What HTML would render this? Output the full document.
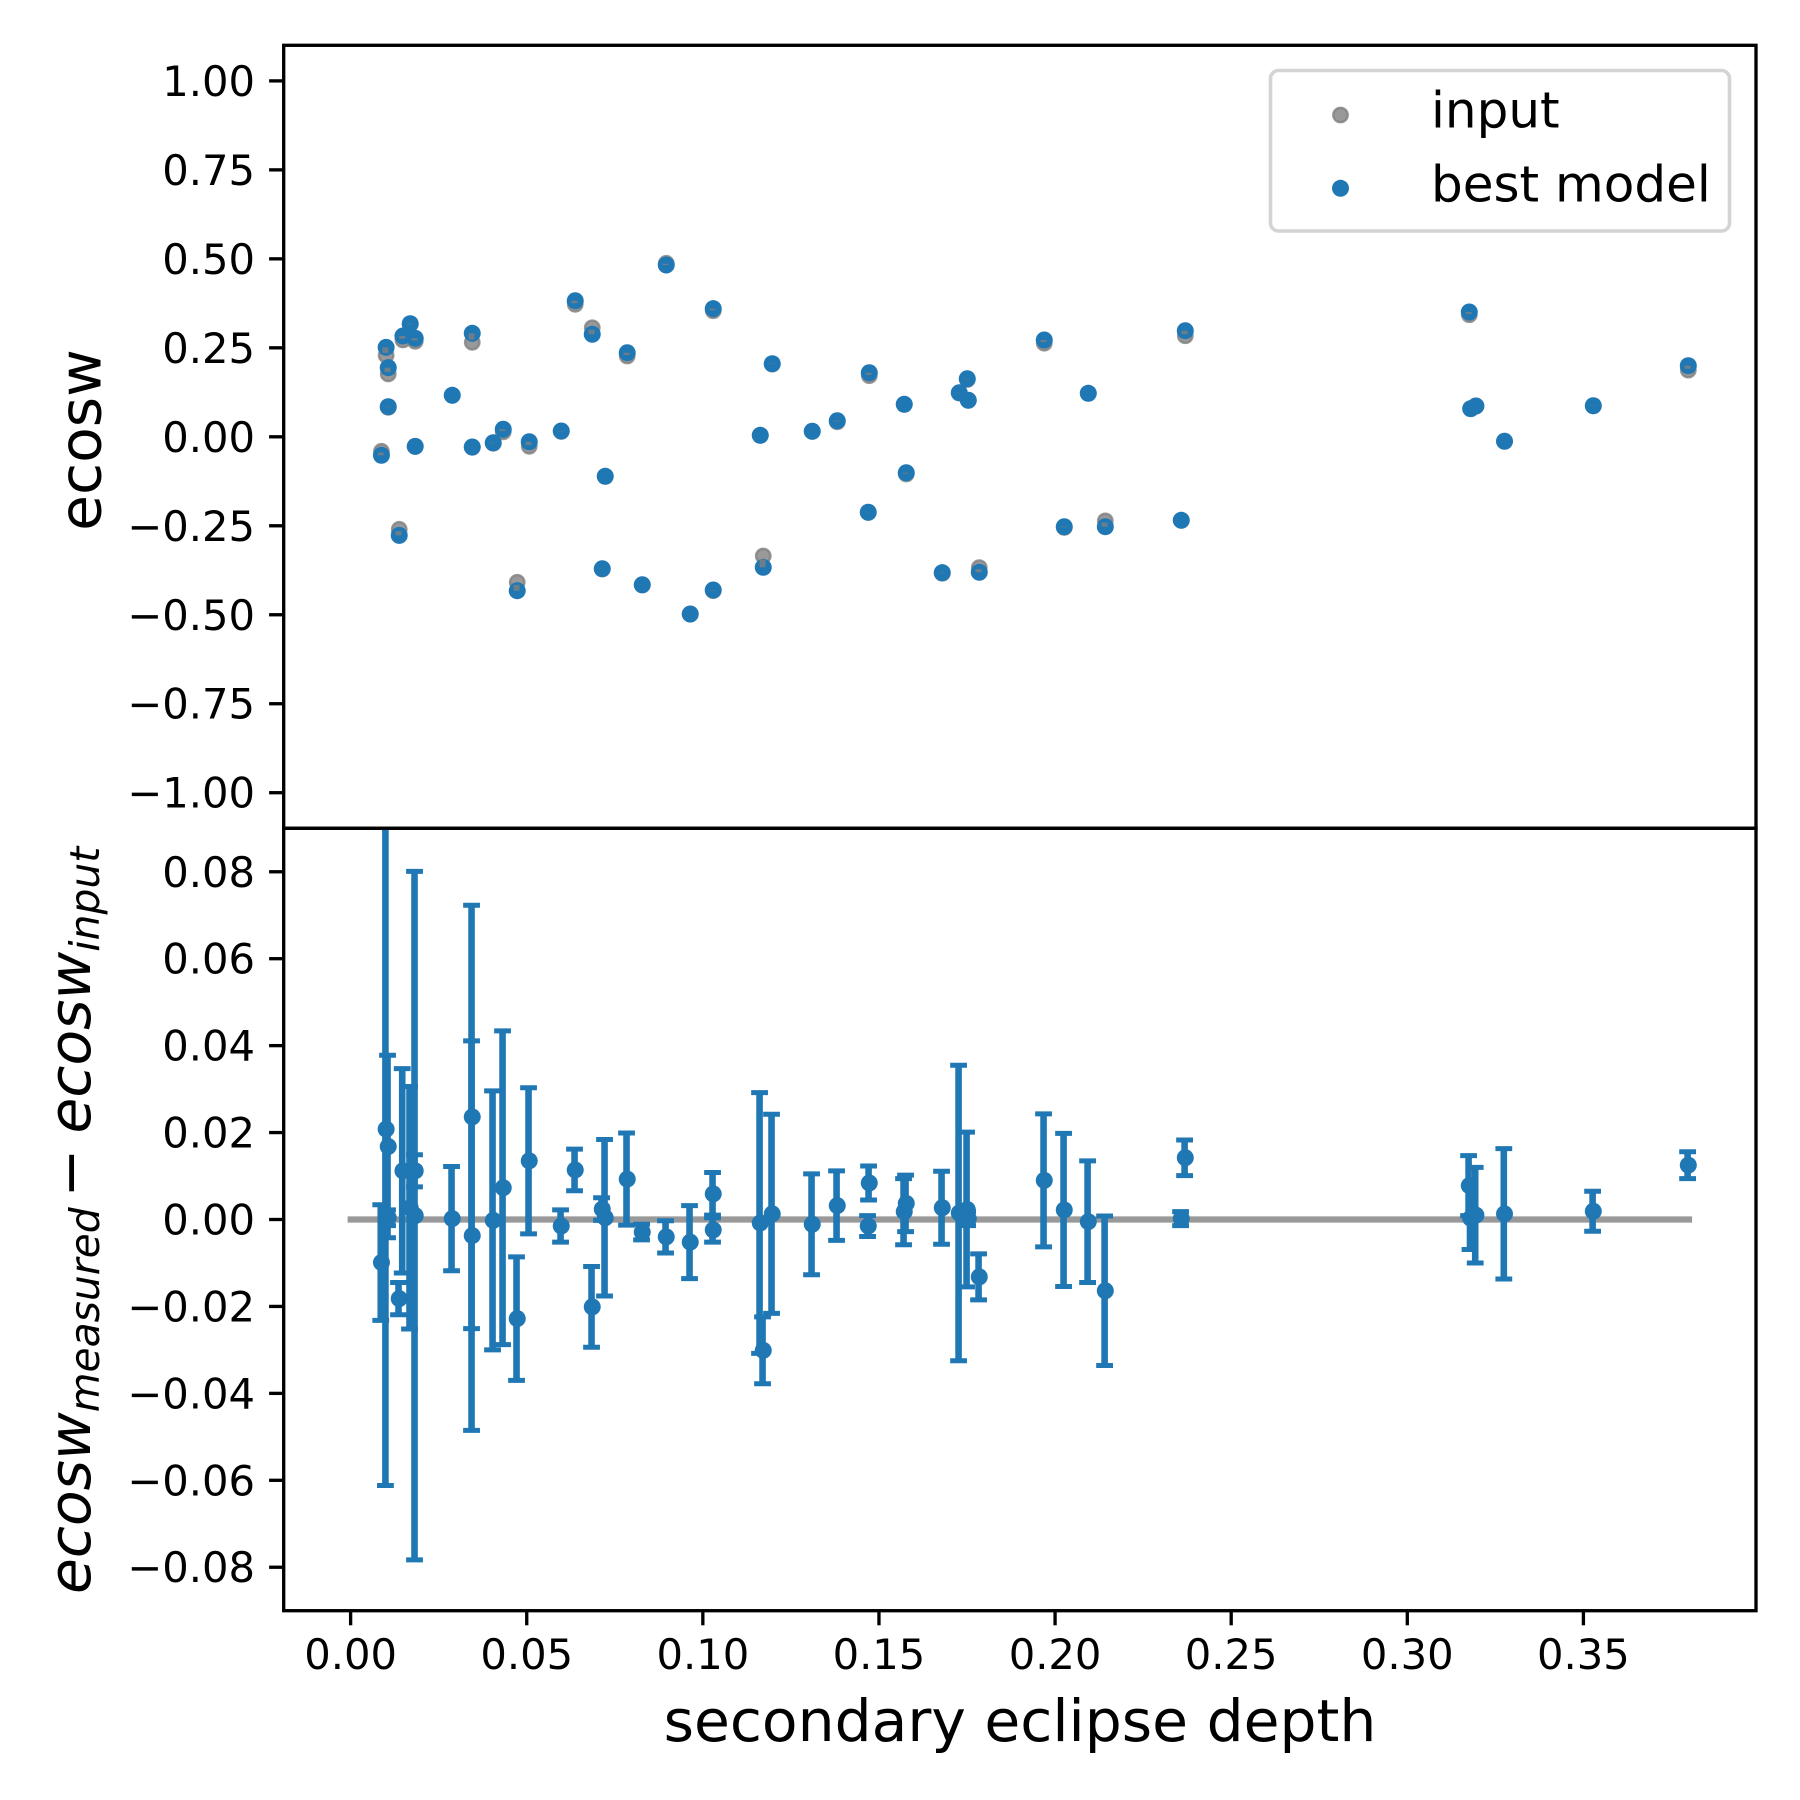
<!DOCTYPE html>
<html lang="en">
<head>
<meta charset="utf-8">
<title>ecosw vs secondary eclipse depth</title>
<style>
html,body{margin:0;padding:0;background:#fff;}
svg{display:block;}
text{font-family:"DejaVu Sans","Liberation Sans",sans-serif;fill:#000;}
</style>
</head>
<body>
<svg id="chart" xmlns="http://www.w3.org/2000/svg" width="1800" height="1800" viewBox="0 0 1800 1800">
  <defs>
    <clipPath id="clip-top"><rect x="283.5" y="45.3" width="1472.5" height="783"/></clipPath>
    <clipPath id="clip-bottom"><rect x="283.5" y="828.3" width="1472.5" height="782.4"/></clipPath>
  </defs>
  <rect x="0" y="0" width="1800" height="1800" fill="#ffffff"/>
  <g id="top-marks" clip-path="url(#clip-top)"></g>
  <g id="bottom-marks" clip-path="url(#clip-bottom)"></g>
  <g id="axes-layer"></g>

  <text transform="translate(100.5,440) rotate(-90)" text-anchor="middle" font-size="58.33">ecosw</text>
  <text transform="translate(90,1594) rotate(-90)" font-size="58.33"><tspan font-style="italic">ecosw</tspan><tspan font-style="italic" font-size="40.83" dy="9">measured</tspan><tspan dy="-9" dx="10">−</tspan><tspan font-style="italic" dx="15">ecosw</tspan><tspan font-style="italic" font-size="40.83" dy="9">input</tspan></text>
  <text x="1020" y="1741" text-anchor="middle" font-size="58.33">secondary eclipse depth</text>

  <g>
    <rect x="1270.5" y="70.5" width="459" height="160.5" rx="8" ry="8" fill="#ffffff" fill-opacity="0.8" stroke="#d4d4d4" stroke-width="3.6"/>
    <g>
      <circle cx="1340.5" cy="115" r="7.2" fill="#808080" fill-opacity="0.8" stroke="#808080" stroke-opacity="0.8" stroke-width="2.4"/>
      <text x="1431" y="127.7" font-size="50">input</text>
    </g>
    <g>
      <circle cx="1340.5" cy="188.3" r="8.5" fill="#1f77b4"/>
      <text x="1431" y="201.7" font-size="50">best model</text>
    </g>
  </g>
</svg>
<script>
// ---- chart data ----
const depth = [0.00875,0.01008,0.01068,0.01068,0.0138,0.01485,0.01692,0.01834,0.01834,0.02885,0.03453,0.03453,0.04049,0.04333,0.0473,0.05071,0.0598,0.06377,0.0686,0.07229,0.07144,0.07853,0.0828,0.08961,0.09642,0.10295,0.10295,0.1163,0.11715,0.1197,0.13106,0.13816,0.14696,0.14725,0.15718,0.15775,0.16797,0.1728,0.17507,0.17536,0.17848,0.19693,0.20261,0.20943,0.21426,0.23583,0.23697,0.3176,0.318,0.31948,0.3276,0.35281,0.37978];
const bestEcosw = [-0.052,0.2514,0.1942,0.0846,-0.2769,0.2832,0.3178,0.2767,-0.0268,0.1166,0.2908,-0.0287,-0.0166,0.0211,-0.4324,-0.0138,0.0163,0.3824,0.288,-0.111,-0.3706,0.2363,-0.4156,0.4827,-0.4979,0.36,-0.4305,0.0042,-0.3667,0.2054,0.0155,0.0452,-0.2121,0.1801,0.0913,-0.1009,-0.3818,0.1239,0.1632,0.1026,-0.3807,0.272,-0.2526,0.1222,-0.2526,-0.2346,0.2981,0.3507,0.079,0.0865,-0.0126,0.0874,0.1998];
const inputEcosw = [-0.0408,0.2289,0.1765,0.0828,-0.26,0.272,0.316,0.2683,-0.0268,0.1166,0.2655,-0.0295,-0.0183,0.0138,-0.4088,-0.0267,0.015,0.3723,0.3065,-0.111,-0.3715,0.227,-0.4164,0.4875,-0.4985,0.3541,-0.4324,0.0042,-0.3349,0.2041,0.015,0.042,-0.2125,0.1717,0.0913,-0.1046,-0.3835,0.123,0.1609,0.1026,-0.3675,0.263,-0.2548,0.1222,-0.2362,-0.2346,0.2839,0.3429,0.079,0.0865,-0.0126,0.0868,0.1873];
const residual = [-0.0099,0.0208,0.0168,0.0004,-0.0182,0.0112,0.0027,0.0112,0.0009,0.0002,0.0236,-0.0037,-0.0002,0.0073,-0.0228,0.0135,-0.0015,0.0114,-0.0201,0.0004,0.0024,0.0093,-0.0029,-0.004,-0.0052,0.0059,-0.0024,-0.0008,-0.0301,0.0013,-0.0011,0.0032,-0.0015,0.0084,0.0018,0.0037,0.0027,0.0015,0.0023,0.0002,-0.0132,0.009,0.0022,-0.0005,-0.0164,0.0002,0.0142,0.0078,0.0003,0.001,0.0013,0.0019,0.0125];
const errorSize = [0.0133,0.082,0.021,0.0018,0.0037,0.0235,0.0279,0.0037,0.0792,0.012,0.0487,0.0448,0.0298,0.0361,0.0142,0.0168,0.0037,0.0048,0.0093,0.018,0.0026,0.0106,0.0018,0.0037,0.0084,0.0049,0.0028,0.03,0.0077,0.0229,0.0116,0.008,0.0024,0.0039,0.0076,0.0065,0.0084,0.034,0.0178,0.0016,0.0053,0.0153,0.0176,0.014,0.0172,0.0016,0.0041,0.0069,0.0072,0.011,0.015,0.0046,0.0031];
const xTickValues = [0,0.05,0.1,0.15,0.2,0.25,0.3,0.35];
const xTickLabels = ["0.00","0.05","0.10","0.15","0.20","0.25","0.30","0.35"];
const topTickValues = [1,0.75,0.5,0.25,0,-0.25,-0.5,-0.75,-1];
const topTickLabels = ["1.00","0.75","0.50","0.25","0.00","−0.25","−0.50","−0.75","−1.00"];
const bottomTickValues = [0.08,0.06,0.04,0.02,0,-0.02,-0.04,-0.06,-0.08];
const bottomTickLabels = ["0.08","0.06","0.04","0.02","0.00","−0.02","−0.04","−0.06","−0.08"];
const referenceLineRange = [0,0.38];

// ---- axis functions ----
const LEFT = 283.7, RIGHT = 1756, TOP = 45.3, MID = 828.3, BOTTOM = 1610.7;
const X_MIN = -0.019, X_MAX = 0.399;
function xScale(v){ return LEFT + (v - X_MIN) / (X_MAX - X_MIN) * (RIGHT - LEFT); }
function yTop(v){ return TOP + (1.1 - v) / 2.2 * (MID - TOP); }
function yBottom(v){ return MID + (0.09 - v) / 0.18 * (BOTTOM - MID); }

const NS = 'http://www.w3.org/2000/svg';
function make(tag, attrs, parent){
  const el = document.createElementNS(NS, tag);
  for (const k in attrs) el.setAttribute(k, attrs[k]);
  parent.appendChild(el);
  return el;
}
const BLUE = '#1f77b4', GRAY = '#808080';
const topG = document.getElementById('top-marks');
const botG = document.getElementById('bottom-marks');
const axG = document.getElementById('axes-layer');

// ---- top panel ----
inputEcosw.forEach(function(v, i){
  const c = make('circle', {cx:xScale(depth[i]), cy:yTop(v), r:7.2, fill:GRAY, 'fill-opacity':0.8, stroke:GRAY, 'stroke-opacity':0.8, 'stroke-width':2.4}, topG);
  
  
});
bestEcosw.forEach(function(v, i){
  const c = make('circle', {cx:xScale(depth[i]), cy:yTop(v), r:8.5, fill:BLUE}, topG);
  
  
});
bestEcosw.forEach(function(v, i){
  const y1 = yTop(v);
  const y2 = yTop(v + (inputEcosw[i] - v) * 0.7);
  const l = make('line', {x1:xScale(depth[i]) - 0.7, x2:xScale(depth[i]) - 0.7, y1:y1, y2:y2, stroke:GRAY, 'stroke-opacity':0.8, 'stroke-width':6}, topG);
  
  
});

// ---- bottom panel ----
const zero = make('line', {x1:xScale(referenceLineRange[0]) - 3, x2:xScale(referenceLineRange[1]) + 3, y1:yBottom(0), y2:yBottom(0), stroke:GRAY, 'stroke-opacity':0.8, 'stroke-width':6.25}, botG);



residual.forEach(function(v, i){
  const x = xScale(depth[i]) - 0.7;
  const up = yBottom(v + errorSize[i]);
  const dn = yBottom(v - errorSize[i]);
  const bar = make('line', {x1:x, x2:x, y1:up, y2:dn, stroke:BLUE, 'stroke-width':6.6}, botG);
  
  
  [up, dn].forEach(function(y){
    const cap = make('line', {x1:x - 8.4, x2:x + 8.4, y1:y, y2:y, stroke:BLUE, 'stroke-width':5}, botG);
    
    
  });
});
residual.forEach(function(v, i){
  const c = make('circle', {cx:xScale(depth[i]), cy:yBottom(v), r:8.5, fill:BLUE}, botG);
  
  
});

// ---- spines ----
const frames = [[TOP, MID, 'top-panel-frame'], [MID, BOTTOM, 'bottom-panel-frame']];
frames.forEach(function(f){
  const r = make('rect', {x:LEFT, y:f[0], width:RIGHT - LEFT, height:f[1] - f[0], fill:'none', stroke:'#000', 'stroke-width':3.33}, axG);
  
  
});

// ---- ticks ----
function yTicks(values, labels, scale, name){
  values.forEach(function(v, i){
    const y = scale(v);
    const t = make('line', {x1:LEFT - 14.6, x2:LEFT, y1:y, y2:y, stroke:'#000', 'stroke-width':3.33}, axG);
    
    
    const s = make('text', {x:255, y:y + 15, 'text-anchor':'end', 'font-size':41.67}, axG);
    
    
    s.textContent = labels[i];
  });
}
yTicks(topTickValues, topTickLabels, yTop, 'top-y');
yTicks(bottomTickValues, bottomTickLabels, yBottom, 'bottom-y');
xTickValues.forEach(function(v, i){
  const x = xScale(v);
  const t = make('line', {x1:x, x2:x, y1:BOTTOM, y2:BOTTOM + 14.6, stroke:'#000', 'stroke-width':3.33}, axG);
  
  
  const s = make('text', {x:x, y:1669, 'text-anchor':'middle', 'font-size':41.67}, axG);
  
  
  s.textContent = xTickLabels[i];
});
</script>
</body>
</html>
